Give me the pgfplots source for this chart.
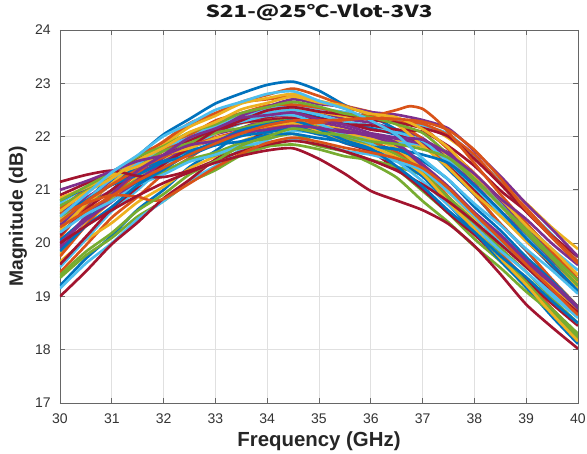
\documentclass[border=0pt]{standalone}
\usepackage{pgfplots}
\pgfplotsset{compat=1.18}
\usepackage{graphicx}
\usepackage{fontspec}
\setmainfont{Liberation Sans}
\newfontfamily\cjk{Noto Sans CJK SC}
\definecolor{c1}{RGB}{0,114,189}
\definecolor{c2}{RGB}{217,83,25}
\definecolor{c3}{RGB}{237,177,32}
\definecolor{c4}{RGB}{126,47,142}
\definecolor{c5}{RGB}{119,172,48}
\definecolor{c6}{RGB}{77,190,238}
\definecolor{c7}{RGB}{162,20,47}
\begin{document}
\begin{tikzpicture}
\useasboundingbox (-45pt,-38.25pt) rectangle (395.25pt,302.25pt);
\begin{axis}[
  scale only axis, width=388.5pt, height=279.75pt,
  xmin=30, xmax=40, ymin=17, ymax=24,
  xtick={30,31,...,40}, ytick={17,18,...,24},
  grid=major, major grid style={line width=0.5pt, draw=black!12},
  axis line style={draw=black!60, line width=0.6pt},
  tick style={draw=black!60, line width=0.6pt},
  tick align=inside, major tick length=4pt,
  /pgf/number format/assume math mode=true,
  tick label style={font=\fontsize{10.5}{11}\selectfont, text=black!80},
  xticklabel style={yshift=-4.5pt},
  yticklabel style={xshift=-3.5pt},
  xlabel={Frequency (GHz)},
  ylabel={Magnitude (dB)},
  xlabel style={font=\fontsize{15.3}{16}\selectfont\bfseries, text=black!85, at={(axis description cs:0.5,0)}, anchor=base, yshift=-33pt},
  ylabel style={font=\fontsize{14.5}{16}\selectfont\bfseries, text=black!85, at={(axis description cs:-0.081,0.5)}, anchor=center},
  title={\scalebox{1.35}[1]{S21-@25℃-Vlot-3V3}},
  title style={font=\cjk\bfseries\fontsize{12.5}{14}\selectfont, text=black!90, at={(axis description cs:0.5,1)}, anchor=base, yshift=3pt},
  every axis plot/.append style={line width=2pt, line join=round, smooth, tension=0.4},
]
\addplot[c1] coordinates {(30,19.20)(30.5,19.71)(31,20.14)(31.5,20.63)(32,21.00)(32.5,21.43)(33,21.73)(33.5,22.07)(34,22.28)(34.5,22.45)(35,22.36)(35.5,22.23)(36,22.16)(36.5,22.03)(37,21.87)(37.5,21.46)(38,21.01)(38.5,20.51)(39,20.06)(39.5,19.56)(40,19.10)};
\addplot[c2] coordinates {(30,19.45)(30.5,19.96)(31,20.48)(31.5,20.87)(32,21.30)(32.5,21.60)(33,21.92)(33.5,22.10)(34,22.29)(34.5,22.34)(35,22.21)(35.5,22.03)(36,21.91)(36.5,21.71)(37,21.40)(37.5,20.87)(38,20.37)(38.5,19.82)(39,19.32)(39.5,18.77)(40,18.26)};
\addplot[c3] coordinates {(30,19.65)(30.5,20.06)(31,20.38)(31.5,20.77)(32,21.06)(32.5,21.40)(33,21.63)(33.5,21.91)(34,22.07)(34.5,22.21)(35,22.12)(35.5,22.06)(36,21.96)(36.5,21.91)(37,21.81)(37.5,21.66)(38,21.23)(38.5,20.76)(39,20.23)(39.5,19.76)(40,19.25)};
\addplot[c4] coordinates {(30,19.90)(30.5,20.36)(31,20.84)(31.5,21.20)(32,21.60)(32.5,21.86)(33,22.16)(33.5,22.32)(34,22.50)(34.5,22.55)(35,22.46)(35.5,22.33)(36,22.26)(36.5,22.13)(37,21.97)(37.5,21.56)(38,21.11)(38.5,20.61)(39,20.16)(39.5,19.66)(40,19.20)};
\addplot[c5] coordinates {(30,19.35)(30.5,19.77)(31,20.10)(31.5,20.50)(32,20.79)(32.5,21.14)(33,21.37)(33.5,21.65)(34,21.81)(34.5,21.95)(35,21.82)(35.5,21.72)(36,21.56)(36.5,21.38)(37,20.98)(37.5,20.56)(38,20.08)(38.5,19.66)(39,19.18)(39.5,18.76)(40,18.30)};
\addplot[c6] coordinates {(30,19.15)(30.5,19.62)(31,20.00)(31.5,20.45)(32,20.79)(32.5,21.17)(33,21.45)(33.5,21.76)(34,21.94)(34.5,22.10)(35,22.06)(35.5,21.98)(36,21.96)(36.5,21.88)(37,21.84)(37.5,21.57)(38,21.20)(38.5,20.74)(39,20.35)(39.5,19.89)(40,19.49)};
\addplot[c7] coordinates {(30,19.00)(30.5,19.47)(31,19.98)(31.5,20.39)(32,20.84)(32.5,21.19)(33,21.57)(33.5,21.83)(34,22.11)(34.5,22.24)(35,22.09)(35.5,21.88)(36,21.72)(36.5,21.39)(37,21.01)(37.5,20.56)(38,20.16)(38.5,19.71)(39,19.31)(39.5,18.86)(40,18.45)};
\addplot[c1] coordinates {(30,20.30)(30.5,20.78)(31,21.27)(31.5,21.64)(32,22.04)(32.5,22.33)(33,22.62)(33.5,22.81)(34,22.97)(34.5,23.03)(35,22.86)(35.5,22.59)(36,22.39)(36.5,22.13)(37,21.86)(37.5,21.38)(38,20.91)(38.5,20.36)(39,19.86)(39.5,19.30)(40,18.80)};
\addplot[c2] coordinates {(30,20.10)(30.5,20.68)(31,21.13)(31.5,21.59)(32,21.91)(32.5,22.25)(33,22.44)(33.5,22.64)(34,22.70)(34.5,22.75)(35,22.66)(35.5,22.53)(36,22.46)(36.5,22.33)(37,22.17)(37.5,21.76)(38,21.31)(38.5,20.81)(39,20.36)(39.5,19.86)(40,19.40)};
\addplot[c3] coordinates {(30,20.45)(30.5,20.84)(31,21.14)(31.5,21.49)(32,21.73)(32.5,22.00)(33,22.16)(33.5,22.36)(34,22.44)(34.5,22.50)(35,22.46)(35.5,22.38)(36,22.36)(36.5,22.28)(37,22.24)(37.5,21.97)(38,21.60)(38.5,21.14)(39,20.75)(39.5,20.29)(40,19.89)};
\addplot[c4] coordinates {(30,20.60)(30.5,20.85)(31,21.15)(31.5,21.36)(32,21.63)(32.5,21.80)(33,22.04)(33.5,22.16)(34,22.33)(34.5,22.40)(35,22.27)(35.5,22.17)(36,22.01)(36.5,21.83)(37,21.43)(37.5,21.01)(38,20.53)(38.5,20.11)(39,19.63)(39.5,19.21)(40,18.75)};
\addplot[c5] coordinates {(30,20.20)(30.5,20.57)(31,20.83)(31.5,21.14)(32,21.32)(32.5,21.54)(33,21.65)(33.5,21.79)(34,21.82)(34.5,21.85)(35,21.76)(35.5,21.63)(36,21.56)(36.5,21.43)(37,21.27)(37.5,20.86)(38,20.41)(38.5,19.91)(39,19.46)(39.5,18.96)(40,18.50)};
\addplot[c6] coordinates {(30,20.75)(30.5,21.05)(31,21.28)(31.5,21.57)(32,21.77)(32.5,22.03)(33,22.18)(33.5,22.39)(34,22.50)(34.5,22.60)(35,22.52)(35.5,22.46)(36,22.36)(36.5,22.31)(37,22.21)(37.5,22.05)(38,21.63)(38.5,21.16)(39,20.64)(39.5,20.16)(40,19.65)};
\addplot[c7] coordinates {(30,20.90)(30.5,21.12)(31,21.34)(31.5,21.59)(32,21.75)(32.5,21.97)(33,22.10)(33.5,22.28)(34,22.36)(34.5,22.45)(35,22.34)(35.5,22.26)(36,22.13)(36.5,22.06)(37,21.84)(37.5,21.49)(38,20.98)(38.5,20.54)(39,20.04)(39.5,19.59)(40,19.10)};
\addplot[c1] coordinates {(30,20.05)(30.5,20.46)(31,20.78)(31.5,21.14)(32,21.39)(32.5,21.68)(33,21.85)(33.5,22.05)(34,22.13)(34.5,22.20)(35,22.06)(35.5,21.88)(36,21.76)(36.5,21.56)(37,21.25)(37.5,20.72)(38,20.22)(38.5,19.67)(39,19.17)(39.5,18.62)(40,18.11)};
\addplot[c2] coordinates {(30,20.65)(30.5,21.01)(31,21.30)(31.5,21.64)(32,21.89)(32.5,22.20)(33,22.40)(33.5,22.65)(34,22.78)(34.5,22.90)(35,22.76)(35.5,22.58)(36,22.46)(36.5,22.26)(37,21.95)(37.5,21.42)(38,20.92)(38.5,20.37)(39,19.87)(39.5,19.32)(40,18.81)};
\addplot[c3] coordinates {(30,19.80)(30.5,20.36)(31,20.79)(31.5,21.24)(32,21.54)(32.5,21.87)(33,22.05)(33.5,22.25)(34,22.31)(34.5,22.35)(35,22.22)(35.5,22.12)(36,21.96)(36.5,21.78)(37,21.38)(37.5,20.96)(38,20.48)(38.5,20.06)(39,19.58)(39.5,19.16)(40,18.70)};
\addplot[c4] coordinates {(30,20.35)(30.5,20.72)(31,20.99)(31.5,21.32)(32,21.53)(32.5,21.79)(33,21.94)(33.5,22.12)(34,22.19)(34.5,22.25)(35,22.17)(35.5,22.11)(36,22.01)(36.5,21.96)(37,21.86)(37.5,21.70)(38,21.28)(38.5,20.81)(39,20.29)(39.5,19.81)(40,19.30)};
\addplot[c5] coordinates {(30,20.50)(30.5,20.76)(31,20.94)(31.5,21.19)(32,21.35)(32.5,21.57)(33,21.70)(33.5,21.88)(34,21.96)(34.5,22.05)(35,21.87)(35.5,21.72)(36,21.50)(36.5,21.23)(37,20.79)(37.5,20.39)(38,19.94)(38.5,19.54)(39,19.09)(39.5,18.69)(40,18.25)};
\addplot[c6] coordinates {(30,19.55)(30.5,20.07)(31,20.60)(31.5,21.00)(32,21.43)(32.5,21.74)(33,22.07)(33.5,22.25)(34,22.44)(34.5,22.50)(35,22.41)(35.5,22.28)(36,22.21)(36.5,22.08)(37,21.92)(37.5,21.51)(38,21.06)(38.5,20.56)(39,20.11)(39.5,19.61)(40,19.15)};
\addplot[c7] coordinates {(30,20.15)(30.5,20.63)(31,21.00)(31.5,21.39)(32,21.65)(32.5,21.93)(33,22.09)(33.5,22.26)(34,22.31)(34.5,22.35)(35,22.31)(35.5,22.23)(36,22.21)(36.5,22.13)(37,22.09)(37.5,21.82)(38,21.45)(38.5,20.99)(39,20.60)(39.5,20.14)(40,19.74)};
\addplot[c1] coordinates {(30,20.80)(30.5,21.03)(31,21.18)(31.5,21.41)(32,21.54)(32.5,21.74)(33,21.84)(33.5,22.01)(34,22.08)(34.5,22.15)(35,22.04)(35.5,21.96)(36,21.83)(36.5,21.76)(37,21.54)(37.5,21.19)(38,20.68)(38.5,20.24)(39,19.74)(39.5,19.29)(40,18.80)};
\addplot[c2] coordinates {(30,19.75)(30.5,20.33)(31,20.90)(31.5,21.31)(32,21.74)(32.5,22.02)(33,22.30)(33.5,22.44)(34,22.58)(34.5,22.60)(35,22.54)(35.5,22.43)(36,22.39)(36.5,22.28)(37,22.24)(37.5,22.02)(38,21.66)(38.5,21.13)(39,20.66)(39.5,20.13)(40,19.65)};
\addplot[c3] coordinates {(30,20.25)(30.5,20.73)(31,21.12)(31.5,21.54)(32,21.84)(32.5,22.18)(33,22.39)(33.5,22.62)(34,22.72)(34.5,22.80)(35,22.67)(35.5,22.57)(36,22.41)(36.5,22.23)(37,21.83)(37.5,21.41)(38,20.93)(38.5,20.51)(39,20.04)(39.5,19.61)(40,19.15)};
\addplot[c4] coordinates {(30,20.00)(30.5,20.43)(31,20.78)(31.5,21.19)(32,21.50)(32.5,21.85)(33,22.10)(33.5,22.39)(34,22.56)(34.5,22.70)(35,22.61)(35.5,22.56)(36,22.46)(36.5,22.41)(37,22.31)(37.5,22.15)(38,21.73)(38.5,21.26)(39,20.74)(39.5,20.26)(40,19.75)};
\addplot[c5] coordinates {(30,20.70)(30.5,20.97)(31,21.28)(31.5,21.48)(32,21.73)(32.5,21.88)(33,22.07)(33.5,22.16)(34,22.27)(34.5,22.30)(35,22.16)(35.5,21.98)(36,21.86)(36.5,21.66)(37,21.35)(37.5,20.82)(38,20.32)(38.5,19.77)(39,19.27)(39.5,18.72)(40,18.21)};
\addplot[c6] coordinates {(30,20.40)(30.5,20.80)(31,21.21)(31.5,21.49)(32,21.80)(32.5,21.98)(33,22.20)(33.5,22.28)(34,22.39)(34.5,22.40)(35,22.24)(35.5,22.03)(36,21.87)(36.5,21.54)(37,21.16)(37.5,20.71)(38,20.31)(38.5,19.86)(39,19.46)(39.5,19.01)(40,18.60)};
\addplot[c7] coordinates {(30,19.60)(30.5,20.12)(31,20.65)(31.5,21.05)(32,21.48)(32.5,21.79)(33,22.12)(33.5,22.30)(34,22.49)(34.5,22.55)(35,22.47)(35.5,22.41)(36,22.31)(36.5,22.26)(37,22.16)(37.5,22.00)(38,21.58)(38.5,21.11)(39,20.59)(39.5,20.11)(40,19.60)};
\addplot[c1] coordinates {(30,20.55)(30.5,20.80)(31,21.09)(31.5,21.28)(32,21.52)(32.5,21.65)(33,21.84)(33.5,21.91)(34,22.03)(34.5,22.05)(35,21.97)(35.5,21.91)(36,21.81)(36.5,21.76)(37,21.66)(37.5,21.50)(38,21.08)(38.5,20.61)(39,20.09)(39.5,19.61)(40,19.10)};
\addplot[c2] coordinates {(30,20.40)(30.5,20.78)(31,21.10)(31.5,21.38)(32,21.62)(32.5,21.82)(33,21.98)(33.5,22.10)(34,22.18)(34.5,22.22)(35,22.26)(35.5,22.31)(36,22.38)(36.5,22.50)(36.75,22.57)(37,22.52)(37.25,22.33)(37.5,22.08)(38,21.50)(38.5,20.92)(39,20.38)(39.5,19.84)(40,19.32)};
\addplot[c3] coordinates {(30,20.85)(30.5,21.04)(31,21.28)(31.5,21.44)(32,21.66)(32.5,21.78)(33,21.97)(33.5,22.06)(34,22.20)(34.5,22.25)(35,22.11)(35.5,21.93)(36,21.81)(36.5,21.61)(37,21.30)(37.5,20.77)(38,20.27)(38.5,19.72)(39,19.22)(39.5,18.67)(40,18.16)};
\addplot[c4] coordinates {(30,19.95)(30.5,20.50)(31,20.92)(31.5,21.36)(32,21.66)(32.5,21.98)(33,22.15)(33.5,22.35)(34,22.40)(34.5,22.45)(35,22.32)(35.5,22.22)(36,22.06)(36.5,21.88)(37,21.48)(37.5,21.06)(38,20.58)(38.5,20.16)(39,19.68)(39.5,19.26)(40,18.80)};
\addplot[c5] coordinates {(30,20.80)(30.5,21.06)(31,21.33)(31.5,21.62)(32,21.82)(32.5,22.08)(33,22.23)(33.5,22.44)(34,22.55)(34.5,22.65)(35,22.56)(35.5,22.43)(36,22.36)(36.5,22.23)(37,22.07)(37.5,21.66)(38,21.21)(38.5,20.71)(39,20.26)(39.5,19.76)(40,19.30)};
\addplot[c6] coordinates {(30,20.20)(30.5,20.54)(31,20.79)(31.5,21.09)(32,21.29)(32.5,21.53)(33,21.66)(33.5,21.83)(34,21.89)(34.5,21.95)(35,21.86)(35.5,21.73)(36,21.66)(36.5,21.53)(37,21.37)(37.5,20.96)(38,20.51)(38.5,20.01)(39,19.56)(39.5,19.06)(40,18.60)};
\addplot[c7] coordinates {(30,21.15)(30.5,21.28)(31,21.36)(31.5,21.26)(32,21.24)(32.5,21.36)(33,21.55)(33.5,21.72)(34,21.85)(34.5,21.92)(35,21.85)(35.5,21.72)(36,21.56)(36.5,21.36)(37,21.10)(37.5,20.78)(38,20.40)(38.5,19.98)(39,19.55)(39.5,19.12)(40,18.70)};
\addplot[c1] coordinates {(30,19.85)(30.5,20.32)(31,20.68)(31.5,21.09)(32,21.38)(32.5,21.70)(33,21.90)(33.5,22.12)(34,22.23)(34.5,22.30)(35,22.14)(35.5,21.93)(36,21.77)(36.5,21.44)(37,21.06)(37.5,20.61)(38,20.21)(38.5,19.76)(39,19.36)(39.5,18.91)(40,18.50)};
\addplot[c2] coordinates {(30,20.55)(30.5,20.75)(31,20.90)(31.5,20.87)(31.75,20.80)(32,20.83)(32.5,21.12)(33,21.42)(33.5,21.68)(34,21.88)(34.5,21.98)(35,21.90)(35.5,21.79)(36,21.70)(36.5,21.59)(37,21.41)(37.5,21.03)(38,20.55)(38.5,20.08)(39,19.60)(39.5,19.13)(40,18.65)};
\addplot[c3] coordinates {(30,20.60)(30.5,20.95)(31,21.22)(31.5,21.55)(32,21.79)(32.5,22.08)(33,22.27)(33.5,22.51)(34,22.63)(34.5,22.75)(35,22.64)(35.5,22.56)(36,22.43)(36.5,22.36)(37,22.14)(37.5,21.79)(38,21.28)(38.5,20.84)(39,20.33)(39.5,19.89)(40,19.40)};
\addplot[c4] coordinates {(30,21.00)(30.5,21.16)(31,21.35)(31.5,21.54)(32,21.65)(32.5,21.84)(33,21.92)(33.5,22.07)(34,22.13)(34.5,22.20)(35,22.16)(35.5,22.08)(36,22.06)(36.5,21.98)(37,21.94)(37.5,21.67)(38,21.30)(38.5,20.84)(39,20.45)(39.5,19.99)(40,19.59)};
\addplot[c5] coordinates {(30,19.40)(30.5,19.84)(31,20.19)(31.5,20.61)(32,20.92)(32.5,21.29)(33,21.54)(33.5,21.83)(34,22.00)(34.5,22.15)(35,22.07)(35.5,22.02)(36,21.91)(36.5,21.86)(37,21.76)(37.5,21.60)(38,21.18)(38.5,20.71)(39,20.19)(39.5,19.71)(40,19.20)};
\addplot[c6] coordinates {(30,20.50)(30.5,20.91)(31,21.33)(31.5,21.65)(32,22.01)(32.5,22.24)(33,22.50)(33.5,22.65)(34,22.80)(34.5,22.85)(35,22.67)(35.5,22.52)(36,22.30)(36.5,22.03)(37,21.59)(37.5,21.19)(38,20.74)(38.5,20.34)(39,19.89)(39.5,19.49)(40,19.05)};
\addplot[c7] coordinates {(30,20.00)(30.5,20.32)(31,20.62)(31.5,20.89)(32,21.13)(32.5,21.33)(33,21.51)(33.5,21.64)(34,21.74)(34.5,21.78)(35,21.58)(35.5,21.30)(36,20.98)(36.5,20.80)(37,20.62)(37.5,20.36)(38,19.95)(38.5,19.42)(39,18.85)(39.5,18.42)(40,18.02)};
\addplot[c2] coordinates {(30,20.30)(30.5,20.60)(31,20.89)(31.5,21.17)(32,21.42)(32.5,21.66)(33,21.87)(33.5,22.06)(34,22.21)(34.5,22.30)(35,22.30)(35.5,22.32)(36,22.34)(36.5,22.33)(37,22.28)(37.5,22.12)(38,21.75)(38.5,21.22)(39,20.62)(39.5,20.10)(40,19.62)};
\end{axis}
\end{tikzpicture}
\end{document}
